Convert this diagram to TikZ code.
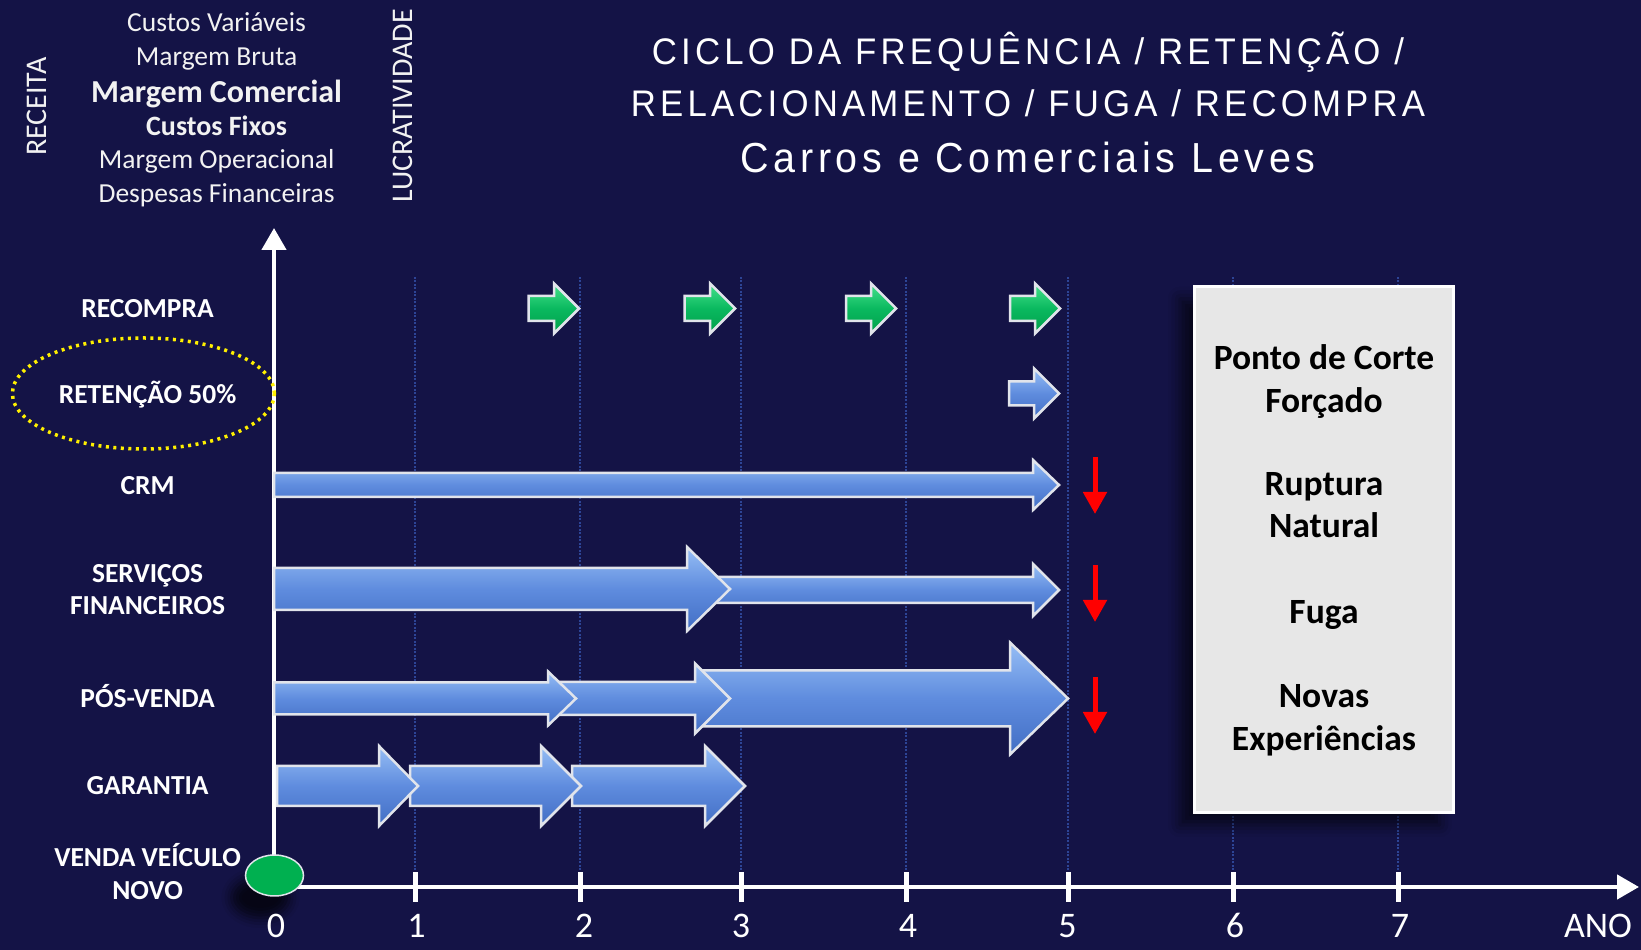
\documentclass[tikz,border=0pt]{standalone}
\usepackage{fontspec}
\setmainfont{Carlito}
\newfontfamily\titlefont[LetterSpace=12]{Liberation Sans}
\usepackage{tikz}
\usepackage{xcolor}
\usetikzlibrary{positioning,arrows.meta,shadows.blur}

\begin{document}
\begin{tikzpicture}[x=1pt,y=1pt,
  rowlabel/.style={text=white,anchor=base,inner sep=0pt,outer sep=0pt,font=\fontsize{27.5}{30}\selectfont\bfseries},
  toplabel/.style={text=textColor,anchor=base,inner sep=0pt,outer sep=0pt,font=\fontsize{27.5}{30}\selectfont},
  axislabel/.style={text=textColor,rotate=90,anchor=center,inner sep=0pt,outer sep=0pt,font=\fontsize{30}{32}\selectfont},
  boxlabel/.style={text=black,anchor=base,inner sep=0pt,outer sep=0pt,font=\fontsize{35.5}{38}\selectfont\bfseries},
  titletext/.style={text=white,anchor=base,inner sep=0pt,outer sep=0pt,xscale=0.94,font=\titlefont\fontsize{37}{40}\selectfont},
  ticklabel/.style={text=white,anchor=base,inner sep=0pt,outer sep=0pt,font=\fontsize{36}{38}\selectfont},
  bluearrow/.style={top color=blueTop,bottom color=blueBot,middle color=blueMid,draw=edgeColor,line width=2.5pt,line join=miter},
  greenarrow/.style={top color=greenTop,bottom color=greenBot,middle color=greenMid,draw=edgeColor,line width=2.5pt,line join=miter},
  redmark/.style={draw=red,line width=5pt,-{Triangle[length=22pt,width=23pt]}},
  gridline/.style={draw=gridColor,line width=1.3pt,dash pattern=on 2pt off 1.5pt},
  axisline/.style={draw=white,line width=4.5pt},
  tickmark/.style={draw=white,line width=5pt}]
\definecolor{fillColor}{RGB}{20,19,70}
\definecolor{textColor}{RGB}{242,242,242}
\definecolor{gridColor}{RGB}{45,68,150}
\definecolor{blueTop}{RGB}{150,190,245}
\definecolor{blueMid}{RGB}{95,140,222}
\definecolor{blueBot}{RGB}{66,110,196}
\definecolor{greenTop}{RGB}{70,225,140}
\definecolor{greenMid}{RGB}{10,185,95}
\definecolor{greenBot}{RGB}{0,160,75}
\definecolor{edgeColor}{RGB}{225,228,235}
\definecolor{ovalGreen}{RGB}{0,176,80}
\definecolor{boxGray}{RGB}{231,231,231}
\definecolor{dotYellow}{RGB}{255,240,0}

\path[use as bounding box,fill=fillColor] (0,0) rectangle (1641,950);

% grid
\path[gridline] (415,673) -- (415,78);
\path[gridline] (580,673) -- (580,78);
\path[gridline] (741,673) -- (741,78);
\path[gridline] (906,673) -- (906,78);
\path[gridline] (1068,673) -- (1068,78);
\path[gridline] (1233,673) -- (1233,78);
\path[gridline] (1398,673) -- (1398,78);

% right box
\path[fill=boxGray,draw=white,line width=3pt,
  blur shadow={shadow xshift=-14pt,shadow yshift=-12pt,shadow blur radius=12pt,shadow opacity=60}]
  (1194,137) rectangle (1453.7,663.2);

% axes
\path[axisline,-{Triangle[length=22pt,width=24pt]}] (274,63) -- (274,722);
\path[axisline,-{Triangle[length=22pt,width=24pt]}] (274,63) -- (1639,63);
\path[tickmark] (415,48) -- (415,78);
\path[tickmark] (580,48) -- (580,78);
\path[tickmark] (741,48) -- (741,78);
\path[tickmark] (906,48) -- (906,78);
\path[tickmark] (1068,48) -- (1068,78);
\path[tickmark] (1233,48) -- (1233,78);
\path[tickmark] (1398,48) -- (1398,78);

% recompra
\path[greenarrow] (528.5,654) -- (554,654) -- (554,666.5) -- (579,641.5) -- (554,616.5) -- (554,629) -- (528.5,629) -- cycle;
\path[greenarrow] (684.5,654) -- (710,654) -- (710,666.5) -- (735,641.5) -- (710,616.5) -- (710,629) -- (684.5,629) -- cycle;
\path[greenarrow] (846,654) -- (871,654) -- (871,666.5) -- (896,641.5) -- (871,616.5) -- (871,629) -- (846,629) -- cycle;
\path[greenarrow] (1010,654) -- (1035,654) -- (1035,666.5) -- (1060,641.5) -- (1035,616.5) -- (1035,629) -- (1010,629) -- cycle;

% retencao
\path[bluearrow] (1009,568.5) -- (1034,568.5) -- (1034,581.5) -- (1059,556.5) -- (1034,531.5) -- (1034,544.5) -- (1009,544.5) -- cycle;

% crm
\path[bluearrow] (274,477) -- (1033,477) -- (1033,490) -- (1059,465) -- (1033,440) -- (1033,453) -- (274,453) -- cycle;

% servicos financeiros
\path[bluearrow] (700,373) -- (1033,373) -- (1033,386) -- (1059,360) -- (1033,334) -- (1033,347) -- (700,347) -- cycle;
\path[bluearrow] (274,382) -- (687,382) -- (687,403) -- (730,361) -- (687,319) -- (687,340) -- (274,340) -- cycle;

% pos-venda
\path[bluearrow] (700,279.5) -- (1010,279.5) -- (1010,307.5) -- (1068,251.5) -- (1010,195.5) -- (1010,223.5) -- (700,223.5) -- cycle;
\path[bluearrow] (560,268) -- (695,268) -- (695,286.5) -- (730,251.5) -- (695,216.5) -- (695,235) -- (560,235) -- cycle;
\path[bluearrow] (274,267.5) -- (548,267.5) -- (548,278.5) -- (576,251.5) -- (548,224.5) -- (548,235.5) -- (274,235.5) -- cycle;

% garantia
\path[bluearrow] (572,184) -- (705,184) -- (705,204) -- (745,164) -- (705,124) -- (705,144) -- (572,144) -- cycle;
\path[bluearrow] (410,184) -- (541,184) -- (541,204) -- (581,164) -- (541,124) -- (541,144) -- (410,144) -- cycle;
\path[bluearrow] (277,184) -- (379,184) -- (379,204) -- (418,164) -- (379,124) -- (379,144) -- (277,144) -- cycle;

% fuga
\path[redmark] (1095,493) -- (1095,436);
\path[redmark] (1095,385) -- (1095,328);
\path[redmark] (1095,273) -- (1095,216);

% venda veiculo novo
\path[fill=ovalGreen,draw=edgeColor,line width=1.5pt,
  blur shadow={shadow xshift=-14pt,shadow yshift=-22pt,shadow blur radius=10pt,shadow opacity=70}]
  (274.5,74.5) ellipse [x radius=29pt,y radius=20.5pt];

% retencao 50%
\path[draw=dotYellow,line width=3.5pt,dash pattern=on 3pt off 4.5pt] (143.4,556.5) ellipse [x radius=131pt,y radius=55.5pt];

% row labels
\node[rowlabel] (recompra) at (147.6,632) {RECOMPRA};
\node[rowlabel] (retencao) at (147.6,546.5) {RETENÇÃO 50\%};
\node[rowlabel] (crm) at (147.6,455.5) {CRM};
\node[rowlabel] (servicos) at (147.6,367.6) {SERVIÇOS};
\node[rowlabel] (financeiros) at (147.6,335) {FINANCEIROS};
\node[rowlabel] (posvenda) at (147.6,242) {PÓS-VENDA};
\node[rowlabel] (garantia) at (147.6,155) {GARANTIA};
\node[rowlabel] (venda) at (147.6,83) {VENDA VEÍCULO};
\node[rowlabel] (novo) at (147.6,50.4) {NOVO};

% top left
\node[toplabel] (custvar) at (216.6,918.3) {Custos Variáveis};
\node[toplabel] (mbruta) at (216.6,884.8) {Margem Bruta};
\node[toplabel,font=\fontsize{32}{34}\selectfont\bfseries] (mcomercial) at (216.6,847.7) {Margem Comercial};
\node[toplabel,font=\fontsize{28}{30}\selectfont\bfseries] (custfix) at (216.6,814.4) {Custos Fixos};
\node[toplabel] (moper) at (216.6,781.3) {Margem Operacional};
\node[toplabel] (despfin) at (216.6,747.7) {Despesas Financeiras};
\node[axislabel] (receita) at (36.6,843.2) {RECEITA};
\node[axislabel] (lucro) at (403,844) {LUCRATIVIDADE};

% title
\node[titletext] (title1) at (1028,885) {CICLO DA FREQUÊNCIA / RETENÇÃO /};
\node[titletext] (title2) at (1028,833) {RELACIONAMENTO / FUGA / RECOMPRA};
\node[titletext,xscale=1.0,font=\titlefont\fontsize{42}{44}\selectfont] (title3) at (1028,777) {Carros e Comerciais Leves};

% box text
\node[boxlabel] (ponto) at (1324,580.7) {Ponto de Corte};
\node[boxlabel] (forcado) at (1324,537.7) {Forçado};
\node[boxlabel] (ruptura) at (1324,454) {Ruptura};
\node[boxlabel] (natural) at (1324,412.2) {Natural};
\node[boxlabel] (fuga) at (1324,326.7) {Fuga};
\node[boxlabel] (novas) at (1324,242.7) {Novas};
\node[boxlabel] (experiencias) at (1324,199.7) {Experiências};

% x axis labels
\node[ticklabel] (t0) at (276,12) {0};
\node[ticklabel] (t1) at (416.5,12) {1};
\node[ticklabel] (t2) at (584,12) {2};
\node[ticklabel] (t3) at (741,12) {3};
\node[ticklabel] (t4) at (908,12) {4};
\node[ticklabel] (t5) at (1067.5,12) {5};
\node[ticklabel] (t6) at (1235,12) {6};
\node[ticklabel] (t7) at (1400,12) {7};
\node[ticklabel] (ano) at (1598,12) {ANO};
\end{tikzpicture}
\end{document}
